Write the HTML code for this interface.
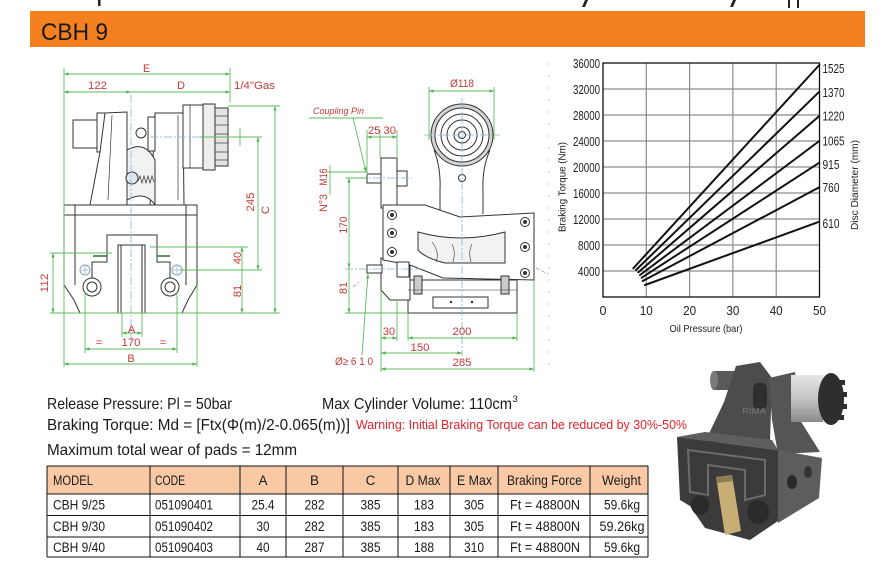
<!DOCTYPE html>
<html><head><meta charset="utf-8">
<style>
html,body{margin:0;padding:0;background:#fff;}
svg{display:block;}
text{font-family:"Liberation Sans",sans-serif;}
</style></head><body>
<svg width="888" height="564" viewBox="0 0 888 564" xmlns="http://www.w3.org/2000/svg">
<defs>
<marker id="ar" viewBox="0 0 10 10" refX="10" refY="5" markerWidth="5" markerHeight="5" orient="auto-start-reverse"><path d="M0,1.5 L10,5 L0,8.5 z" fill="#4fb04f"/></marker>
<linearGradient id="silver" x1="0" y1="0" x2="0" y2="1"><stop offset="0" stop-color="#e6e6e6"/><stop offset="0.5" stop-color="#c4c4c4"/><stop offset="1" stop-color="#8a8a8a"/></linearGradient>
</defs>
<rect width="888" height="564" fill="#fff"/>

<!-- cut-off title remnants -->
<g fill="#222">
<rect x="98" y="0" width="2.5" height="6"/>
<path d="M585,0 L588,0 L585,7 L582,7 Z"/>
<path d="M733,0 L736,0 L733,7 L730,7 Z"/>
<rect x="788" y="0" width="2" height="8"/>
<rect x="797" y="0" width="2" height="8"/>
</g>

<!-- orange header bar -->
<rect x="30" y="11" width="835" height="36" fill="#f4801f"/>
<text x="41" y="40" font-size="24" fill="#1a1a1a" textLength="67" lengthAdjust="spacingAndGlyphs">CBH 9</text>

<!-- dotted separator column -->
<g fill="#cfcfcf">
<circle cx="549" cy="64" r="0.9"/><circle cx="549" cy="76" r="0.9"/><circle cx="549" cy="88" r="0.9"/><circle cx="549" cy="100" r="0.9"/><circle cx="549" cy="112" r="0.9"/><circle cx="549" cy="124" r="0.9"/><circle cx="549" cy="136" r="0.9"/><circle cx="549" cy="148" r="0.9"/><circle cx="549" cy="160" r="0.9"/><circle cx="549" cy="172" r="0.9"/><circle cx="549" cy="184" r="0.9"/><circle cx="549" cy="196" r="0.9"/><circle cx="549" cy="208" r="0.9"/><circle cx="549" cy="220" r="0.9"/><circle cx="549" cy="232" r="0.9"/><circle cx="549" cy="244" r="0.9"/><circle cx="549" cy="256" r="0.9"/><circle cx="549" cy="268" r="0.9"/><circle cx="549" cy="280" r="0.9"/><circle cx="549" cy="292" r="0.9"/><circle cx="549" cy="304" r="0.9"/><circle cx="549" cy="316" r="0.9"/><circle cx="549" cy="328" r="0.9"/><circle cx="549" cy="340" r="0.9"/><circle cx="549" cy="352" r="0.9"/><circle cx="549" cy="364" r="0.9"/>
</g>

<!-- ================= LEFT DRAWING ================= -->
<g fill="#fff" stroke="#333" stroke-width="1">
 <rect x="73" y="120" width="24" height="28"/>
 <rect x="97" y="113" width="8" height="39"/>
 <path d="M105,113 L127,112 L127,205 L90,205 L100,152 Z"/>
 <path d="M155,113 L183,113 L184,205 L150,205 L153,160 Z"/>
 <rect x="183" y="105" width="20" height="63"/>
 <rect x="203" y="104" width="12" height="66" fill="#eee"/>
 <rect x="215" y="108" width="13" height="58" fill="#e4e4e4"/>
 <path d="M127,150 Q145,140 155,160 L155,205 Q145,190 127,200 Z" fill="#f2f2f2"/>
 <rect x="148" y="117" width="7" height="34"/>
 <circle cx="141" cy="133" r="5"/>
 <path d="M64,205 L197,205 L197,285 L188,300 L182,313 L80,313 L74,300 L64,285 Z"/>
 <line x1="64" y1="215" x2="197" y2="215"/>
 <line x1="75" y1="205" x2="75" y2="285"/>
 <line x1="186" y1="205" x2="186" y2="285"/>
 <path d="M92,285 L92,262 L107,262 L107,235 L157,235 L157,262 L170,262 L170,285" fill="none"/>
 <rect x="118" y="245" width="27" height="68"/>
 <line x1="121" y1="245" x2="121" y2="313"/>
 <line x1="142" y1="245" x2="142" y2="313"/>
 <circle cx="92" cy="287" r="9"/><circle cx="92" cy="287" r="5"/>
 <circle cx="170" cy="287" r="9"/><circle cx="170" cy="287" r="5"/>
 <circle cx="132" cy="178" r="6" fill="#dfe8ee"/>
</g>
<g stroke="#333" stroke-width="0.7" fill="none">
 <path d="M138,181 l2,-5 l2,7 l2,-7 l2,7 l2,-7 l2,7 l2,-7 l2,6"/>
 <line x1="215" y1="116" x2="228" y2="116"/><line x1="215" y1="125" x2="228" y2="125"/><line x1="215" y1="134" x2="228" y2="134"/><line x1="215" y1="143" x2="228" y2="143"/><line x1="215" y1="152" x2="228" y2="152"/><line x1="215" y1="160" x2="228" y2="160"/>
 <line x1="190" y1="105" x2="190" y2="168"/>
 <line x1="112" y1="115" x2="108" y2="200"/>
 <line x1="178" y1="115" x2="178" y2="200"/>
</g>
<g stroke="#2e6e2e" stroke-width="1.5"><line x1="93" y1="256" x2="107" y2="256"/><line x1="157" y1="256" x2="170" y2="256"/></g>
<g fill="#fff" stroke="#7a9ab8" stroke-width="0.9"><circle cx="85" cy="270" r="5"/><circle cx="177" cy="270" r="5"/></g>
<g stroke="#7a9ab8" stroke-width="0.6"><line x1="81" y1="270" x2="89" y2="270"/><line x1="85" y1="266" x2="85" y2="274"/><line x1="173" y1="270" x2="181" y2="270"/><line x1="177" y1="266" x2="177" y2="274"/></g>
<g stroke="#8ab4d4" stroke-width="0.8" stroke-dasharray="8,2,2,2" fill="none">
 <line x1="131" y1="95" x2="131" y2="340"/>
 <line x1="150" y1="137" x2="238" y2="137"/>
</g>
<g stroke="#5cbc5c" stroke-width="0.9" fill="none">
 <line x1="64" y1="68" x2="64" y2="367"/>
 <line x1="230" y1="68" x2="230" y2="102"/>
 <line x1="64" y1="74" x2="230" y2="74" marker-start="url(#ar)" marker-end="url(#ar)"/>
 <line x1="64" y1="92" x2="131" y2="92" marker-start="url(#ar)" marker-end="url(#ar)"/>
 <line x1="131" y1="92" x2="230" y2="92" marker-end="url(#ar)"/>
 <line x1="228" y1="106" x2="280" y2="106"/>
 <line x1="200" y1="137" x2="262" y2="137"/>
 <line x1="240" y1="128" x2="240" y2="146"/>
 <line x1="275" y1="106" x2="275" y2="313" marker-start="url(#ar)" marker-end="url(#ar)"/>
 <line x1="258" y1="137" x2="258" y2="270" marker-start="url(#ar)" marker-end="url(#ar)"/>
 <line x1="150" y1="247" x2="248" y2="247"/>
 <line x1="180" y1="270" x2="262" y2="270"/>
 <line x1="242" y1="247" x2="242" y2="313" marker-start="url(#ar)" marker-end="url(#ar)"/>
 <line x1="50" y1="313" x2="280" y2="313"/>
 <line x1="50" y1="253" x2="112" y2="253"/>
 <line x1="53" y1="253" x2="53" y2="313" marker-start="url(#ar)" marker-end="url(#ar)"/>
 <line x1="122" y1="313" x2="122" y2="337"/>
 <line x1="142" y1="313" x2="142" y2="337"/>
 <line x1="122" y1="333" x2="142" y2="333" marker-start="url(#ar)" marker-end="url(#ar)"/>
 <line x1="85" y1="292" x2="85" y2="353"/>
 <line x1="177" y1="292" x2="177" y2="353"/>
 <line x1="85" y1="349" x2="177" y2="349" marker-start="url(#ar)" marker-end="url(#ar)"/>
 <line x1="197" y1="285" x2="197" y2="367"/>
 <line x1="64" y1="364" x2="197" y2="364" marker-start="url(#ar)" marker-end="url(#ar)"/>
</g>
<g fill="#c23a36" font-size="11">
 <text x="143" y="72" textLength="7" lengthAdjust="spacingAndGlyphs">E</text>
 <text x="88" y="89" textLength="19" lengthAdjust="spacingAndGlyphs">122</text>
 <text x="177" y="89" textLength="8" lengthAdjust="spacingAndGlyphs">D</text>
 <text x="234" y="89" textLength="41" lengthAdjust="spacingAndGlyphs">1/4"Gas</text>
 <text transform="translate(269,210) rotate(-90)" text-anchor="middle">C</text>
 <text transform="translate(254,202) rotate(-90)" text-anchor="middle" textLength="19" lengthAdjust="spacingAndGlyphs">245</text>
 <text transform="translate(241,258) rotate(-90)" text-anchor="middle">40</text>
 <text transform="translate(241,291) rotate(-90)" text-anchor="middle">81</text>
 <text transform="translate(48,283) rotate(-90)" text-anchor="middle" textLength="19" lengthAdjust="spacingAndGlyphs">112</text>
 <text x="131.5" y="333" text-anchor="middle">A</text>
 <text x="99" y="346" text-anchor="middle">=</text>
 <text x="131" y="346" text-anchor="middle" textLength="19" lengthAdjust="spacingAndGlyphs">170</text>
 <text x="163" y="346" text-anchor="middle">=</text>
 <text x="131" y="362" text-anchor="middle">B</text>
</g>

<!-- ================= RIGHT DRAWING ================= -->
<g fill="#fff" stroke="#333" stroke-width="1">
 <path d="M434,150 Q441,168 440,190 L440,214 M490,150 Q482,168 483,190 L483,214" fill="none"/>
 <circle cx="462" cy="135" r="31" fill="#d4d4d4"/>
 <circle cx="462" cy="135" r="27"/>
 <circle cx="462" cy="135" r="21"/>
 <circle cx="462" cy="135" r="15"/>
 <circle cx="462" cy="135" r="8"/>
 <circle cx="462" cy="135" r="3.5"/>
 <circle cx="462" cy="178" r="3.5"/>
 <!-- bracket -->
 <rect x="381" y="158" width="16" height="50"/>
 <rect x="367" y="174" width="14" height="9"/>
 <rect x="397" y="171" width="10" height="15"/>
 <!-- lower body -->
 <rect x="408" y="280" width="109" height="33"/>
 <rect x="433" y="297" width="55" height="11"/>
 <path d="M381,258 L410,265 L410,300 L390,300 L381,290 Z"/>
 <!-- plate -->
 <path d="M383,205 L425,205 L460,217 L534,213 L534,280 L443,278 L410,265 L383,260 Z"/>
 <path d="M418,232 Q460,244 505,232 L505,263 L445,263 Q425,258 418,250 Z" fill="#f2f2f2"/>
 <rect x="367" y="265" width="15" height="8"/>
 <rect x="397" y="262" width="12" height="15"/>
 <rect x="414" y="276" width="8" height="18" fill="#ccc"/>
 <rect x="501" y="276" width="8" height="18" fill="#ccc"/>
 <circle cx="392" cy="215" r="4.5"/><circle cx="392" cy="233" r="4.5"/><circle cx="392" cy="252" r="4.5"/>
 <circle cx="525" cy="222" r="4.5"/><circle cx="525" cy="247" r="4.5"/><circle cx="525" cy="273" r="4.5"/>
</g>
<g fill="#333">
 <circle cx="392" cy="215" r="2"/><circle cx="392" cy="233" r="2"/><circle cx="392" cy="252" r="2"/>
 <circle cx="525" cy="222" r="2"/><circle cx="525" cy="247" r="2"/><circle cx="525" cy="273" r="2"/>
 <circle cx="451" cy="302" r="1.2"/><circle cx="472" cy="302" r="1.2"/>
</g>
<g stroke="#333" stroke-width="0.6" fill="none">
 <path d="M432,242 Q440,252 436,262 M452,244 Q456,252 453,262 M472,244 Q468,252 471,262"/>
 <line x1="408" y1="290" x2="517" y2="290"/>
</g>
<g stroke="#8ab4d4" stroke-width="0.8" stroke-dasharray="8,2,2,2" fill="none">
 <line x1="462" y1="98" x2="462" y2="356"/>
 <line x1="424" y1="135" x2="500" y2="135"/>
 <line x1="345" y1="178" x2="412" y2="178"/>
 <line x1="345" y1="269" x2="420" y2="269"/>
</g>
<g stroke="#9a9a9a" stroke-width="0.8" stroke-dasharray="4,2"><line x1="353" y1="287" x2="359" y2="282"/><line x1="536" y1="268" x2="548" y2="274"/></g>
<g stroke="#5cbc5c" stroke-width="0.9" fill="none">
 <line x1="429" y1="87" x2="429" y2="140"/>
 <line x1="494" y1="87" x2="494" y2="140"/>
 <line x1="429" y1="91" x2="494" y2="91" marker-start="url(#ar)" marker-end="url(#ar)"/>
 <line x1="309" y1="118" x2="383" y2="118"/>
 <line x1="353" y1="118" x2="366" y2="172" marker-end="url(#ar)"/>
 <line x1="367" y1="130" x2="367" y2="175"/>
 <line x1="380" y1="130" x2="380" y2="158"/>
 <line x1="397" y1="130" x2="397" y2="158"/>
 <line x1="367" y1="137" x2="397" y2="137" marker-start="url(#ar)" marker-end="url(#ar)"/>
 <line x1="327" y1="172" x2="367" y2="172"/>
 <line x1="330" y1="165" x2="330" y2="195"/>
 <line x1="345" y1="178" x2="367" y2="178"/>
 <line x1="349" y1="178" x2="349" y2="268" marker-start="url(#ar)" marker-end="url(#ar)"/>
 <line x1="349" y1="268" x2="349" y2="313" marker-end="url(#ar)"/>
 <line x1="345" y1="313" x2="408" y2="313"/>
 <line x1="381" y1="290" x2="381" y2="372"/>
 <line x1="397" y1="300" x2="397" y2="341"/>
 <line x1="408" y1="313" x2="408" y2="341"/>
 <line x1="517" y1="313" x2="517" y2="341"/>
 <line x1="534" y1="280" x2="534" y2="372"/>
 <line x1="381" y1="338" x2="397" y2="338" marker-start="url(#ar)" marker-end="url(#ar)"/>
 <line x1="408" y1="338" x2="517" y2="338" marker-start="url(#ar)" marker-end="url(#ar)"/>
 <line x1="381" y1="353" x2="462" y2="353" marker-start="url(#ar)" marker-end="url(#ar)"/>
 <line x1="381" y1="369" x2="534" y2="369" marker-start="url(#ar)" marker-end="url(#ar)"/>
 <line x1="362" y1="355" x2="368" y2="274" marker-end="url(#ar)"/>
</g>
<g fill="#c23a36" font-size="11">
 <text x="462" y="87" text-anchor="middle" textLength="24" lengthAdjust="spacingAndGlyphs">Ø118</text>
 <text x="313" y="114" font-size="9" font-style="italic" textLength="51" lengthAdjust="spacingAndGlyphs">Coupling Pin</text>
 <text x="368" y="134" textLength="28" lengthAdjust="spacingAndGlyphs">25 30</text>
 <text transform="translate(327,177) rotate(-90)" text-anchor="middle" textLength="17" lengthAdjust="spacingAndGlyphs">M16</text>
 <text transform="translate(327,203) rotate(-90)" text-anchor="middle" textLength="18" lengthAdjust="spacingAndGlyphs">N°3</text>
 <text transform="translate(347,225) rotate(-90)" text-anchor="middle" textLength="17" lengthAdjust="spacingAndGlyphs">170</text>
 <text transform="translate(347,288) rotate(-90)" text-anchor="middle">81</text>
 <text x="389" y="335" text-anchor="middle">30</text>
 <text x="462" y="335" text-anchor="middle" textLength="19" lengthAdjust="spacingAndGlyphs">200</text>
 <text x="420" y="351" text-anchor="middle" textLength="19" lengthAdjust="spacingAndGlyphs">150</text>
 <text x="462" y="366" text-anchor="middle" textLength="19" lengthAdjust="spacingAndGlyphs">285</text>
 <text x="335" y="365" textLength="38" lengthAdjust="spacingAndGlyphs">Ø≥ 6 1 0</text>
</g>

<!-- ================= CHART ================= -->
<g stroke="#8c8c8c" stroke-width="1.2">
 <line x1="603" y1="89" x2="819.5" y2="89"/><line x1="603" y1="115" x2="819.5" y2="115"/><line x1="603" y1="141" x2="819.5" y2="141"/><line x1="603" y1="167" x2="819.5" y2="167"/><line x1="603" y1="193" x2="819.5" y2="193"/><line x1="603" y1="219" x2="819.5" y2="219"/><line x1="603" y1="245" x2="819.5" y2="245"/><line x1="603" y1="271" x2="819.5" y2="271"/>
 <line x1="646.3" y1="63" x2="646.3" y2="297"/><line x1="689.6" y1="63" x2="689.6" y2="297"/><line x1="732.9" y1="63" x2="732.9" y2="297"/><line x1="776.2" y1="63" x2="776.2" y2="297"/>
</g>
<rect x="603" y="63" width="216.5" height="234" fill="none" stroke="#111" stroke-width="1.3"/>
<g stroke="#111" stroke-width="2" stroke-linecap="round">
 <line x1="633.3" y1="268.3" x2="819.3" y2="65"/>
 <line x1="636" y1="270" x2="819.3" y2="91.7"/>
 <line x1="638.3" y1="272.3" x2="819.3" y2="116"/>
 <line x1="640" y1="275" x2="819.3" y2="141"/>
 <line x1="641.7" y1="277.7" x2="819.3" y2="162.7"/>
 <line x1="642.7" y1="281" x2="819.3" y2="187.3"/>
 <line x1="645" y1="285" x2="819.3" y2="221.7"/>
</g>
<g fill="#222" font-size="12.5">
 <g text-anchor="end">
  <text x="600" y="68" textLength="27" lengthAdjust="spacingAndGlyphs">36000</text>
  <text x="600" y="94" textLength="27" lengthAdjust="spacingAndGlyphs">32000</text>
  <text x="600" y="120" textLength="27" lengthAdjust="spacingAndGlyphs">28000</text>
  <text x="600" y="146" textLength="27" lengthAdjust="spacingAndGlyphs">24000</text>
  <text x="600" y="172" textLength="27" lengthAdjust="spacingAndGlyphs">20000</text>
  <text x="600" y="198" textLength="27" lengthAdjust="spacingAndGlyphs">16000</text>
  <text x="600" y="224" textLength="27" lengthAdjust="spacingAndGlyphs">12000</text>
  <text x="600" y="250" textLength="22" lengthAdjust="spacingAndGlyphs">8000</text>
  <text x="600" y="276" textLength="22" lengthAdjust="spacingAndGlyphs">4000</text>
 </g>
 <g text-anchor="middle">
  <text x="603" y="315">0</text>
  <text x="646.3" y="315" textLength="13" lengthAdjust="spacingAndGlyphs">10</text>
  <text x="689.6" y="315" textLength="13" lengthAdjust="spacingAndGlyphs">20</text>
  <text x="732.9" y="315" textLength="13" lengthAdjust="spacingAndGlyphs">30</text>
  <text x="776.2" y="315" textLength="13" lengthAdjust="spacingAndGlyphs">40</text>
  <text x="819.5" y="315" textLength="13" lengthAdjust="spacingAndGlyphs">50</text>
 </g>
 <text x="822.5" y="73" textLength="22" lengthAdjust="spacingAndGlyphs">1525</text>
 <text x="822.5" y="97" textLength="22" lengthAdjust="spacingAndGlyphs">1370</text>
 <text x="822.5" y="120.5" textLength="22" lengthAdjust="spacingAndGlyphs">1220</text>
 <text x="822.5" y="145.5" textLength="22" lengthAdjust="spacingAndGlyphs">1065</text>
 <text x="822.5" y="169" textLength="17" lengthAdjust="spacingAndGlyphs">915</text>
 <text x="822.5" y="192" textLength="17" lengthAdjust="spacingAndGlyphs">760</text>
 <text x="822.5" y="228" textLength="17" lengthAdjust="spacingAndGlyphs">610</text>
 <text x="706" y="332" text-anchor="middle" font-size="10.5" textLength="73" lengthAdjust="spacingAndGlyphs">Oil Pressure (bar)</text>
 <text transform="translate(565.5,187) rotate(-90)" text-anchor="middle" font-size="10.5" textLength="90" lengthAdjust="spacingAndGlyphs">Braking Torque (Nm)</text>
 <text transform="translate(858,185) rotate(-90)" text-anchor="middle" font-size="10.5" textLength="90" lengthAdjust="spacingAndGlyphs">Disc Diameter (mm)</text>
</g>

<!-- ================= TEXT BLOCK ================= -->
<g fill="#1a1a1a" font-size="16">
 <text x="47" y="409" textLength="185" lengthAdjust="spacingAndGlyphs">Release Pressure: Pl = 50bar</text>
 <text x="322" y="409" textLength="190" lengthAdjust="spacingAndGlyphs">Max Cylinder Volume: 110cm</text>
 <text x="512.5" y="402" font-size="9.5">3</text>
 <text x="47" y="430" textLength="303" lengthAdjust="spacingAndGlyphs">Braking Torque: Md = [Ftx(Φ(m)/2-0.065(m))]</text>
 <text x="47" y="455" textLength="250" lengthAdjust="spacingAndGlyphs">Maximum total wear of pads = 12mm</text>
</g>
<text x="356" y="429" fill="#e0242b" font-size="13" textLength="331" lengthAdjust="spacingAndGlyphs">Warning: Initial Braking Torque can be reduced by 30%-50%</text>

<!-- ================= TABLE ================= -->
<rect x="47" y="466" width="601" height="28" fill="#f9c9a6"/>
<g stroke="#111" stroke-width="1">
 <line x1="47" y1="466" x2="648" y2="466"/><line x1="47" y1="494" x2="648" y2="494"/><line x1="47" y1="515.5" x2="648" y2="515.5"/><line x1="47" y1="537" x2="648" y2="537"/><line x1="47" y1="557" x2="648" y2="557"/>
 <line x1="47" y1="466" x2="47" y2="557"/><line x1="150" y1="466" x2="150" y2="557"/><line x1="240" y1="466" x2="240" y2="557"/><line x1="286" y1="466" x2="286" y2="557"/><line x1="343" y1="466" x2="343" y2="557"/><line x1="398" y1="466" x2="398" y2="557"/><line x1="450" y1="466" x2="450" y2="557"/><line x1="498" y1="466" x2="498" y2="557"/><line x1="590" y1="466" x2="590" y2="557"/><line x1="648" y1="466" x2="648" y2="557"/>
</g>
<g fill="#1a1a1a" font-size="13.5">
 <text x="53" y="485" textLength="40" lengthAdjust="spacingAndGlyphs">MODEL</text>
 <text x="155" y="485" textLength="30" lengthAdjust="spacingAndGlyphs">CODE</text>
 <g text-anchor="middle">
  <text x="263" y="485">A</text>
  <text x="314.5" y="485">B</text>
  <text x="370.5" y="485">C</text>
  <text x="423" y="485" textLength="35" lengthAdjust="spacingAndGlyphs">D Max</text>
  <text x="474.5" y="485" textLength="35" lengthAdjust="spacingAndGlyphs">E Max</text>
  <text x="544.5" y="485" textLength="75" lengthAdjust="spacingAndGlyphs">Braking Force</text>
  <text x="621.5" y="485" textLength="39" lengthAdjust="spacingAndGlyphs">Weight</text>
 </g>
 <text x="53" y="509.5" textLength="52" lengthAdjust="spacingAndGlyphs">CBH 9/25</text>
 <text x="53" y="531" textLength="52" lengthAdjust="spacingAndGlyphs">CBH 9/30</text>
 <text x="53" y="552" textLength="52" lengthAdjust="spacingAndGlyphs">CBH 9/40</text>
 <text x="155" y="509.5" textLength="58" lengthAdjust="spacingAndGlyphs">051090401</text>
 <text x="155" y="531" textLength="58" lengthAdjust="spacingAndGlyphs">051090402</text>
 <text x="155" y="552" textLength="58" lengthAdjust="spacingAndGlyphs">051090403</text>
 <g text-anchor="middle">
  <text x="263" y="509.5" textLength="23" lengthAdjust="spacingAndGlyphs">25.4</text>
  <text x="263" y="531" textLength="13" lengthAdjust="spacingAndGlyphs">30</text>
  <text x="263" y="552" textLength="13" lengthAdjust="spacingAndGlyphs">40</text>
  <text x="314.5" y="509.5" textLength="20" lengthAdjust="spacingAndGlyphs">282</text>
  <text x="314.5" y="531" textLength="20" lengthAdjust="spacingAndGlyphs">282</text>
  <text x="314.5" y="552" textLength="20" lengthAdjust="spacingAndGlyphs">287</text>
  <text x="370.5" y="509.5" textLength="20" lengthAdjust="spacingAndGlyphs">385</text>
  <text x="370.5" y="531" textLength="20" lengthAdjust="spacingAndGlyphs">385</text>
  <text x="370.5" y="552" textLength="20" lengthAdjust="spacingAndGlyphs">385</text>
  <text x="424" y="509.5" textLength="20" lengthAdjust="spacingAndGlyphs">183</text>
  <text x="424" y="531" textLength="20" lengthAdjust="spacingAndGlyphs">183</text>
  <text x="424" y="552" textLength="20" lengthAdjust="spacingAndGlyphs">188</text>
  <text x="474" y="509.5" textLength="20" lengthAdjust="spacingAndGlyphs">305</text>
  <text x="474" y="531" textLength="20" lengthAdjust="spacingAndGlyphs">305</text>
  <text x="474" y="552" textLength="20" lengthAdjust="spacingAndGlyphs">310</text>
  <text x="545" y="509.5" textLength="70" lengthAdjust="spacingAndGlyphs">Ft = 48800N</text>
  <text x="545" y="531" textLength="70" lengthAdjust="spacingAndGlyphs">Ft = 48800N</text>
  <text x="545" y="552" textLength="70" lengthAdjust="spacingAndGlyphs">Ft = 48800N</text>
  <text x="622" y="509.5" textLength="36" lengthAdjust="spacingAndGlyphs">59.6kg</text>
  <text x="622" y="531" textLength="45" lengthAdjust="spacingAndGlyphs">59.26kg</text>
  <text x="622" y="552" textLength="36" lengthAdjust="spacingAndGlyphs">59.6kg</text>
 </g>
</g>

<!-- ================= PHOTO ================= -->
<g>
 <rect x="711" y="371" width="27" height="19" rx="4" fill="#5a5a5a"/>
 <ellipse cx="714" cy="380" rx="4" ry="9" fill="#7a7a7a"/>
 <path d="M736,366 L760,362 L772,378 L770,442 L705,442 L724,402 Z" fill="#4c4c4c"/>
 <rect x="753" y="383" width="14" height="26" rx="5" fill="#2e2e2e"/>
 <path d="M769,378 L795,372 L800,420 L820,452 L778,454 L772,420 Z" fill="#555"/>
 <rect x="791" y="375" width="32" height="47" fill="url(#silver)"/>
 <ellipse cx="831" cy="399" rx="13" ry="26" fill="#2e2e2e"/>
 <g fill="#2e2e2e"><rect x="840" y="380" width="5" height="5"/><rect x="842" y="392" width="5" height="5"/><rect x="842" y="404" width="5" height="5"/><rect x="839" y="415" width="5" height="5"/></g>
 <text x="742" y="414" font-size="8" fill="#777" textLength="24" lengthAdjust="spacingAndGlyphs">RIMA</text>
 <path d="M677,437 L705,432 L772,440 L778,450 Z" fill="#5e5e5e"/>
 <path d="M677,437 L778,450 L778,521 L750,540 L705,528 L690,506 L680,500 Z" fill="#3b3b3b"/>
 <path d="M778,450 L822,458 L819,498 L778,523 Z" fill="#5d5d5d"/>
 <ellipse cx="792" cy="482" rx="5" ry="7" fill="#2a2a2a"/>
 <ellipse cx="808" cy="472" rx="4" ry="6" fill="#333"/>
 <path d="M688,450 L765,460 L765,495 L745,500 L745,470 L708,465 L708,495 L690,492 Z" fill="none" stroke="#6c6c6c" stroke-width="2"/>
 <ellipse cx="700" cy="505" rx="9" ry="10" fill="#2b2b2b"/>
 <ellipse cx="758" cy="512" rx="11" ry="12" fill="#2b2b2b"/>
 <path d="M716,477 L732,475 L741,531 L725,535 Z" fill="#c6ae74"/>
 <path d="M716,477 L732,475 L733,481 L717,483 Z" fill="#8e7c52"/>
</g>
</svg>
</body></html>
